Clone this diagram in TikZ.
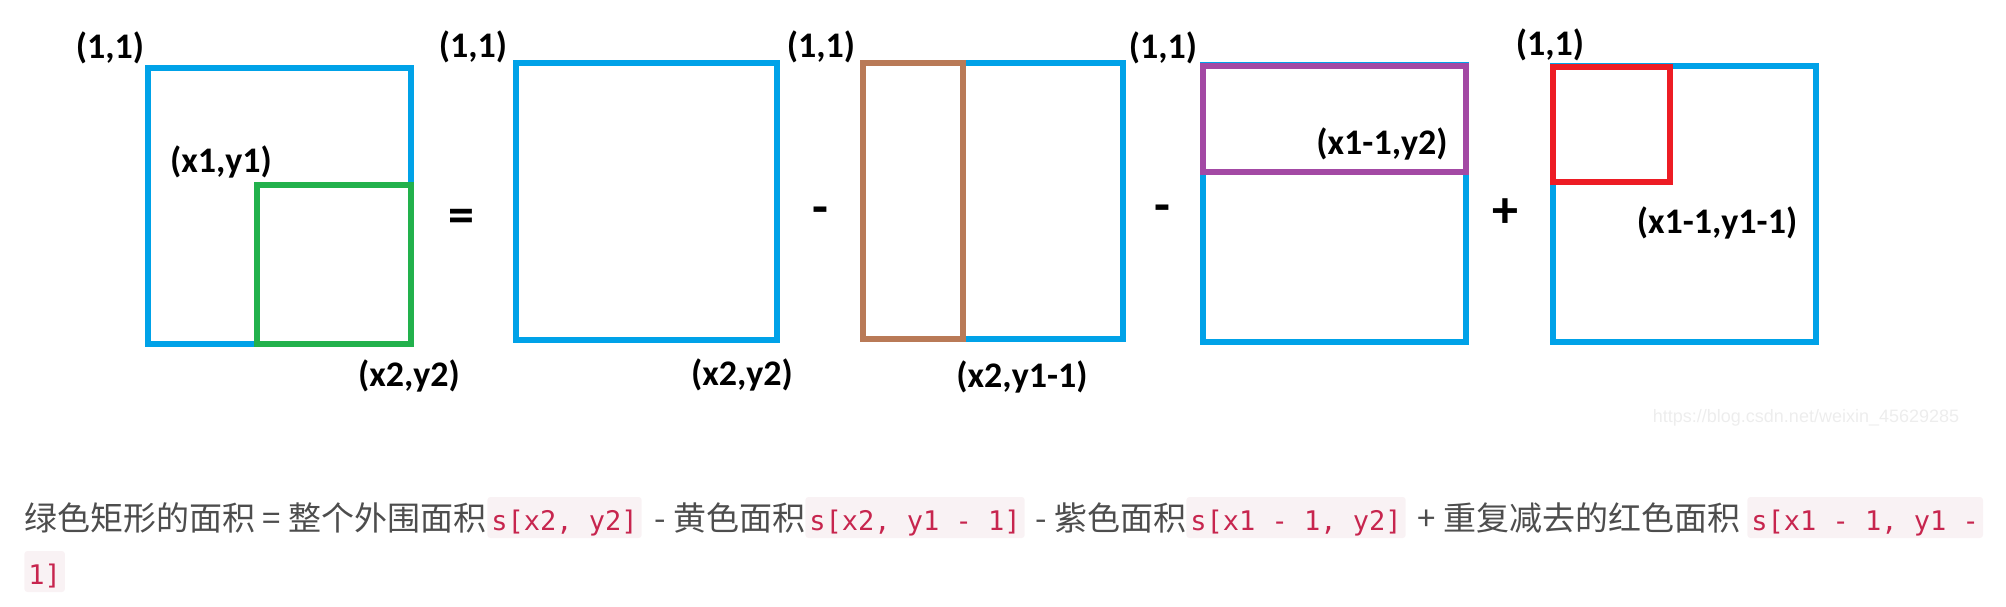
\documentclass[tikz,border=0pt]{standalone}
\usepackage{fontspec}
\usepackage{xcolor}
\usepackage{tikz}

\newfontfamily\lblfont{Carlito}
\newfontfamily\cjkfont{Noto Sans CJK SC}
\newfontfamily\codefont{DejaVu Sans Mono}
\newfontfamily\wmfont{Liberation Sans}

\definecolor{paintblue}{RGB}{0,162,232}
\definecolor{paintgreen}{RGB}{34,177,76}
\definecolor{paintbrown}{RGB}{185,122,87}
\definecolor{paintpurple}{RGB}{163,73,164}
\definecolor{paintred}{RGB}{237,28,36}
\definecolor{textgray}{HTML}{4D4D4D}
\definecolor{codered}{HTML}{C7254E}
\definecolor{codebg}{HTML}{F9F2F4}

\begin{document}
\begin{tikzpicture}[x=0.5pt, y=-0.5pt,
  every node/.style={inner sep=0pt},
  frame/.style={draw=paintblue, line width=3pt},
  part/.style={line width=3pt},
  lbl/.style={font=\lblfont\bfseries\fontsize{18pt}{20pt}\selectfont},
  op/.style={anchor=base, font=\lblfont\bfseries\fontsize{26pt}{28pt}\selectfont},
  txt/.style={anchor=base west, text=textgray,
              font=\cjkfont\fontsize{16.5pt}{18pt}\selectfont},
  code/.style={anchor=base west, fill=codebg, text=codered, rounded corners=1.5pt,
               inner xsep=2pt, inner ysep=0pt, text height=16.5pt, text depth=4pt,
               font=\codefont\fontsize{13.5pt}{15pt}\selectfont},
]
  \useasboundingbox (0,0) rectangle (2006,606);

  \draw[frame] (148,68) rectangle (411,344);
  \draw[part, draw=paintgreen] (257,185) rectangle (411,344);
  \draw[frame] (516,63) rectangle (777,340);
  \draw[frame] (863,63) rectangle (1123,339);
  \draw[part, draw=paintbrown] (863,63) rectangle (963,339);
  \draw[frame] (1203,65) rectangle (1466,342);
  \draw[part, draw=paintpurple] (1203,66) rectangle (1466,172);
  \draw[frame] (1553,66) rectangle (1816,342);
  \draw[part, draw=paintred] (1553,67) rectangle (1670,182);

  \node[lbl] (tl1) at (110,48) {(1,1)};
  \node[lbl] (tl2) at (473,47) {(1,1)};
  \node[lbl] (tl3) at (821,47) {(1,1)};
  \node[lbl] (tl4) at (1163,48) {(1,1)};
  \node[lbl] (tl5) at (1550,45) {(1,1)};
  \node[lbl] (p1) at (221,162) {(x1,y1)};
  \node[lbl] (p2) at (409,376) {(x2,y2)};
  \node[lbl] (p2b) at (742,375) {(x2,y2)};
  \node[lbl] (p3) at (1022,377) {(x2,y1-1)};
  \node[lbl] (p4) at (1382,144) {(x1-1,y2)};
  \node[lbl] (p5) at (1717,223) {(x1-1,y1-1)};

  \node[op] (eq) at (461,232) {=};
  \node[op] (minA) at (820,224) {-};
  \node[op] (minB) at (1162,222) {-};
  \node[op] (plus) at (1505,227) {+};

  \node[text=black!7, font=\wmfont\fontsize{9pt}{10pt}\selectfont] (wm)
    at (1806,418) {https://blog.csdn.net/weixin\_45629285};

  \node[txt] (t1) at (24,530) {绿色矩形的面积 = 整个外围面积};
  \node[code] (c1) at (487,530) {s[x2, y2]};
  \node[txt] (t2) at (654,530) {- 黄色面积};
  \node[code] (c2) at (805,530) {s[x2, y1 - 1]};
  \node[txt] (t3) at (1035,530) {- 紫色面积};
  \node[code] (c3) at (1186,530) {s[x1 - 1, y2]};
  \node[txt] (t4) at (1417,530) {+ 重复减去的红色面积};
  \node[code] (c4) at (1747,530) {s[x1 - 1, y1 -};
  \node[code] (c5) at (24,584) {1]};
\end{tikzpicture}
\end{document}
